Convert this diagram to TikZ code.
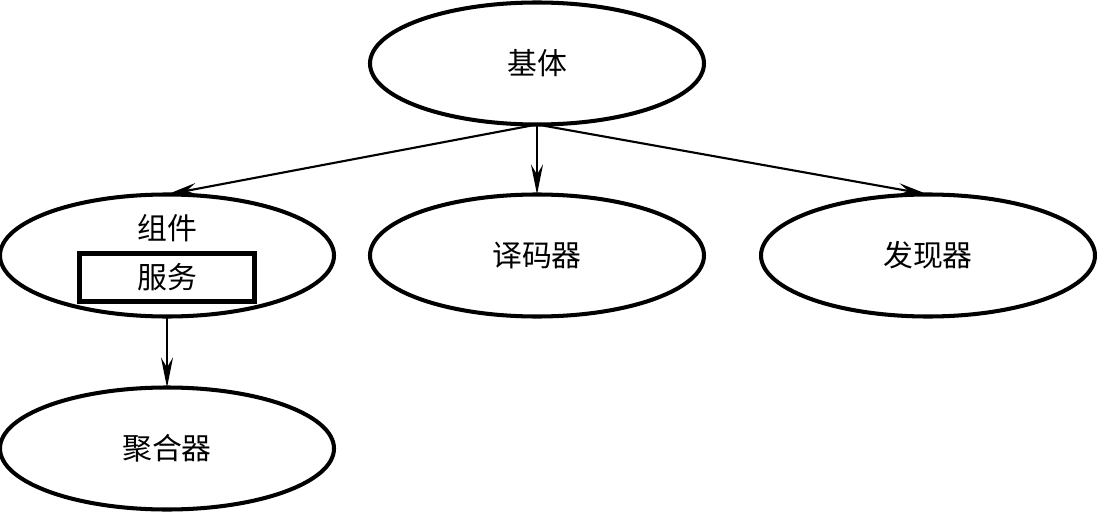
\documentclass[tikz,border=0pt]{standalone}
\usepackage{fontspec}
\newfontfamily\cjk{Noto Sans CJK SC}
\usetikzlibrary{arrows.meta, positioning, shapes.geometric}

\begin{document}
\begin{tikzpicture}[
    >={Stealth[length=6mm, width=2.4mm, inset=2mm]},
    blob/.style={
        draw, ellipse, line width=2.3pt, outer sep=0pt,
        minimum width=6.68cm, minimum height=2.44cm,
        font=\cjk\fontsize{17}{19}\selectfont
    },
    svcbox/.style={
        draw, line width=2.5pt, outer sep=0pt,
        minimum width=3.5cm, minimum height=0.96cm,
        font=\cjk\fontsize{17}{19}\selectfont
    },
    txt/.style={font=\cjk\fontsize{17}{19}\selectfont},
    arrow/.style={->, line width=1.2pt}
]
\useasboundingbox (0,0) rectangle (21.94,-10.28);

% === Top ===
\node[blob] (base) at (10.74,-1.27) {基体};

% === Middle row ===
\node[blob, below=1.4cm of base] (dec) {译码器};
\node[blob, left=0.72cm of dec] (comp) {};
\node[txt] (compname) at ([yshift=0.54cm]comp.center) {组件};
\node[svcbox] (svc) at ([yshift=-0.44cm]comp.center) {服务};
\node[blob, right=1.14cm of dec] (disc) {发现器};

% === Bottom ===
\node[blob, below=1.42cm of comp] (agg) {聚合器};

% === Arrows ===
\draw[arrow] (base.south) -- (comp.north);
\draw[arrow] (base.south) -- (dec.north);
\draw[arrow] (base.south) -- (disc.north);
\draw[arrow] (comp.south) -- (agg.north);

\end{tikzpicture}
\end{document}
